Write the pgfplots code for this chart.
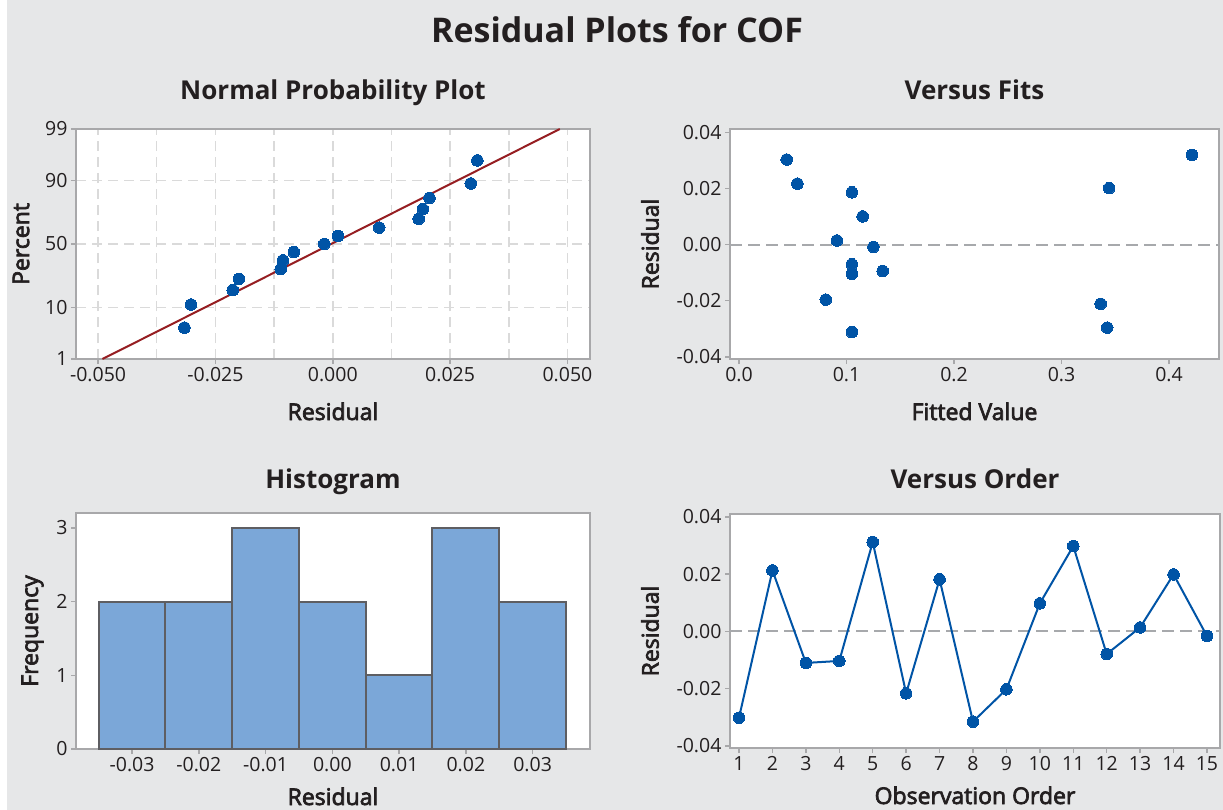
\documentclass[border=0pt]{standalone}
\usepackage{fontspec}
\setmainfont{Open Sans}
\usepackage{pgfplots}
\pgfplotsset{compat=1.18}
\newcommand\semion{\special{pdf:literal direct 2 Tr 0.7 w}}
\newcommand\semioff{\special{pdf:literal direct 0 Tr 1 w}}
\definecolor{bgc}{RGB}{230,231,232}
\definecolor{txt}{RGB}{35,31,32}
\definecolor{axc}{RGB}{168,168,170}
\definecolor{gridc}{RGB}{218,218,218}
\definecolor{zeroc}{RGB}{167,169,172}
\definecolor{ptc}{RGB}{0,84,166}
\definecolor{linec}{RGB}{150,30,34}
\definecolor{barc}{RGB}{123,167,216}
\definecolor{baredge}{RGB}{94,94,98}
\pgfplotsset{
  mystyle/.style={
    scale only axis,
    scaled ticks=false,
    /pgf/number format/assume math mode=true,
    axis line style={axc, line width=2.2pt},
    tick style={axc, line width=1.5pt},
    major tick length=5pt,
    minor tick length=0pt,
    tick align=outside,
    tick pos=left,
    axis background/.style={fill=white},
    tick label style={font=\fontsize{19.5}{19.5}\selectfont, text=txt},
    label style={font=\fontsize{23}{23}\selectfont, text=txt, execute at begin node=\semion, execute at end node=\semioff},
    title style={font=\fontsize{26}{26}\selectfont\bfseries, text=txt, at={(axis description cs:0.5,1)}, anchor=base, yshift=23pt},
    xlabel style={at={(axis description cs:0.5,0)}, anchor=base, yshift=-61pt},
    clip=true,
  },
  mk/.style={only marks, mark=*, mark size=5.8pt, mark options={fill=ptc, draw=ptc, line width=0pt}},
  zeroline/.style={zeroc, line width=2pt, dash pattern=on 12pt off 6pt},
}
\begin{document}
\begin{tikzpicture}
\useasboundingbox (0,0) rectangle (1223pt,-810pt);
\fill[bgc] (7pt,0) rectangle (1223pt,-810pt);
\node[anchor=base, text=txt, font=\fontsize{34}{34}\selectfont\bfseries] at (617pt,-43pt) {Residual Plots for COF};

% Normal probability plot
\begin{axis}[mystyle,
  at={(76pt,-359pt)}, anchor=south west,
  width=514pt, height=230pt,
  xmin=-0.0547, xmax=0.0548, ymin=-2.326, ymax=2.326,
  xtick={-0.05,-0.025,0,0.025,0.05},
  xticklabels={-0.050,-0.025,0.000,0.025,0.050},
  minor xtick={-0.0375,-0.0125,0.0125,0.0375},
  ytick={-2.326,-1.2816,0,1.2816,2.326},
  yticklabels={1,10,50,90,99},
  grid=both,
  major grid style={gridc, line width=1.5pt, dash pattern=on 10pt off 6pt},
  minor grid style={gridc, line width=1.5pt, dash pattern=on 10pt off 6pt},
  title={Normal Probability Plot},
  xlabel={Residual}, ylabel={Percent},
  ylabel style={at={(axis description cs:-0.107,0.5)}, anchor=center},
]
\addplot[linec, line width=2pt] coordinates {(-0.04906,-2.326) (0.04836,2.326)};
\addplot[mk] coordinates {
(-0.0316,-1.691) (-0.0302,-1.224) (-0.0213,-0.933) (-0.0200,-0.705)
(-0.0111,-0.509) (-0.0106,-0.331) (-0.0083,-0.163) (-0.0018,0)
(0.0011,0.163) (0.0099,0.331) (0.0183,0.509) (0.0192,0.705)
(0.0206,0.933) (0.0294,1.224) (0.0308,1.691)};
\end{axis}

% Versus fits
\begin{axis}[mystyle,
  at={(730pt,-359pt)}, anchor=south west,
  width=489pt, height=230pt,
  xmin=-0.0084, xmax=0.4465, ymin=-0.0408, ymax=0.0413,
  xtick={0,0.1,0.2,0.3,0.4},
  xticklabels={0.0,0.1,0.2,0.3,0.4},
  ytick={-0.04,-0.02,0,0.02,0.04},
  yticklabels={-0.04,-0.02,0.00,0.02,0.04},
  title={Versus Fits},
  xlabel={Fitted Value}, ylabel={Residual},
  ylabel style={at={(axis description cs:-0.1636,0.5)}, anchor=center},
]
\addplot[zeroline] coordinates {(-0.0084,0) (0.4465,0)};
\addplot[mk] coordinates {
(0.0443,0.0304) (0.0543,0.0218) (0.105,0.0187) (0.115,0.0101)
(0.091,0.0015) (0.125,-0.0008) (0.105,-0.0070) (0.105,-0.0104)
(0.1336,-0.0094) (0.0807,-0.0196) (0.105,-0.0312) (0.3364,-0.0211)
(0.3425,-0.0296) (0.3443,0.0202) (0.4214,0.0320)};
\end{axis}

% Histogram
\begin{axis}[mystyle,
  at={(76pt,-749pt)}, anchor=south west,
  width=514pt, height=236pt,
  xmin=-0.0384, xmax=0.0386, ymin=0, ymax=3.2,
  xtick={-0.03,-0.02,-0.01,0,0.01,0.02,0.03},
  xticklabels={-0.03,-0.02,-0.01,0.00,0.01,0.02,0.03},
  ytick={0,1,2,3},
  title={Histogram},
  title style={yshift=-4pt},
  xlabel={Residual}, ylabel={Frequency},
  xlabel style={yshift=5pt},
  ylabel style={at={(axis description cs:-0.0846,0.5)}, anchor=center},
]
\addplot[ybar, bar width=0.01, fill=barc, draw=baredge, line width=2pt] coordinates {
(-0.03,2) (-0.02,2) (-0.01,3) (0,2) (0.01,1) (0.02,3) (0.03,2)};
\end{axis}

% Versus order
\begin{axis}[mystyle,
  at={(730pt,-748pt)}, anchor=south west,
  width=490pt, height=234pt,
  xmin=0.73, xmax=15.39, ymin=-0.0407, ymax=0.041,
  xtick={1,2,...,15},
  ytick={-0.04,-0.02,0,0.02,0.04},
  yticklabels={-0.04,-0.02,0.00,0.02,0.04},
  title={Versus Order},
  title style={yshift=-3pt},
  xlabel={Observation Order}, ylabel={Residual},
  xlabel style={yshift=5pt},
  ylabel style={at={(axis description cs:-0.1633,0.5)}, anchor=center},
]
\addplot[zeroline] coordinates {(0.73,0) (15.39,0)};
\addplot[ptc, line width=2pt, mark=*, mark size=5.8pt, mark options={fill=ptc, draw=ptc, line width=0pt}] coordinates {
(1,-0.0301) (2,0.0213) (3,-0.0110) (4,-0.0103) (5,0.0312) (6,-0.0216)
(7,0.0182) (8,-0.0315) (9,-0.0202) (10,0.0098) (11,0.0298) (12,-0.0079)
(13,0.0014) (14,0.0199) (15,-0.0016)};
\end{axis}
\end{tikzpicture}
\end{document}
